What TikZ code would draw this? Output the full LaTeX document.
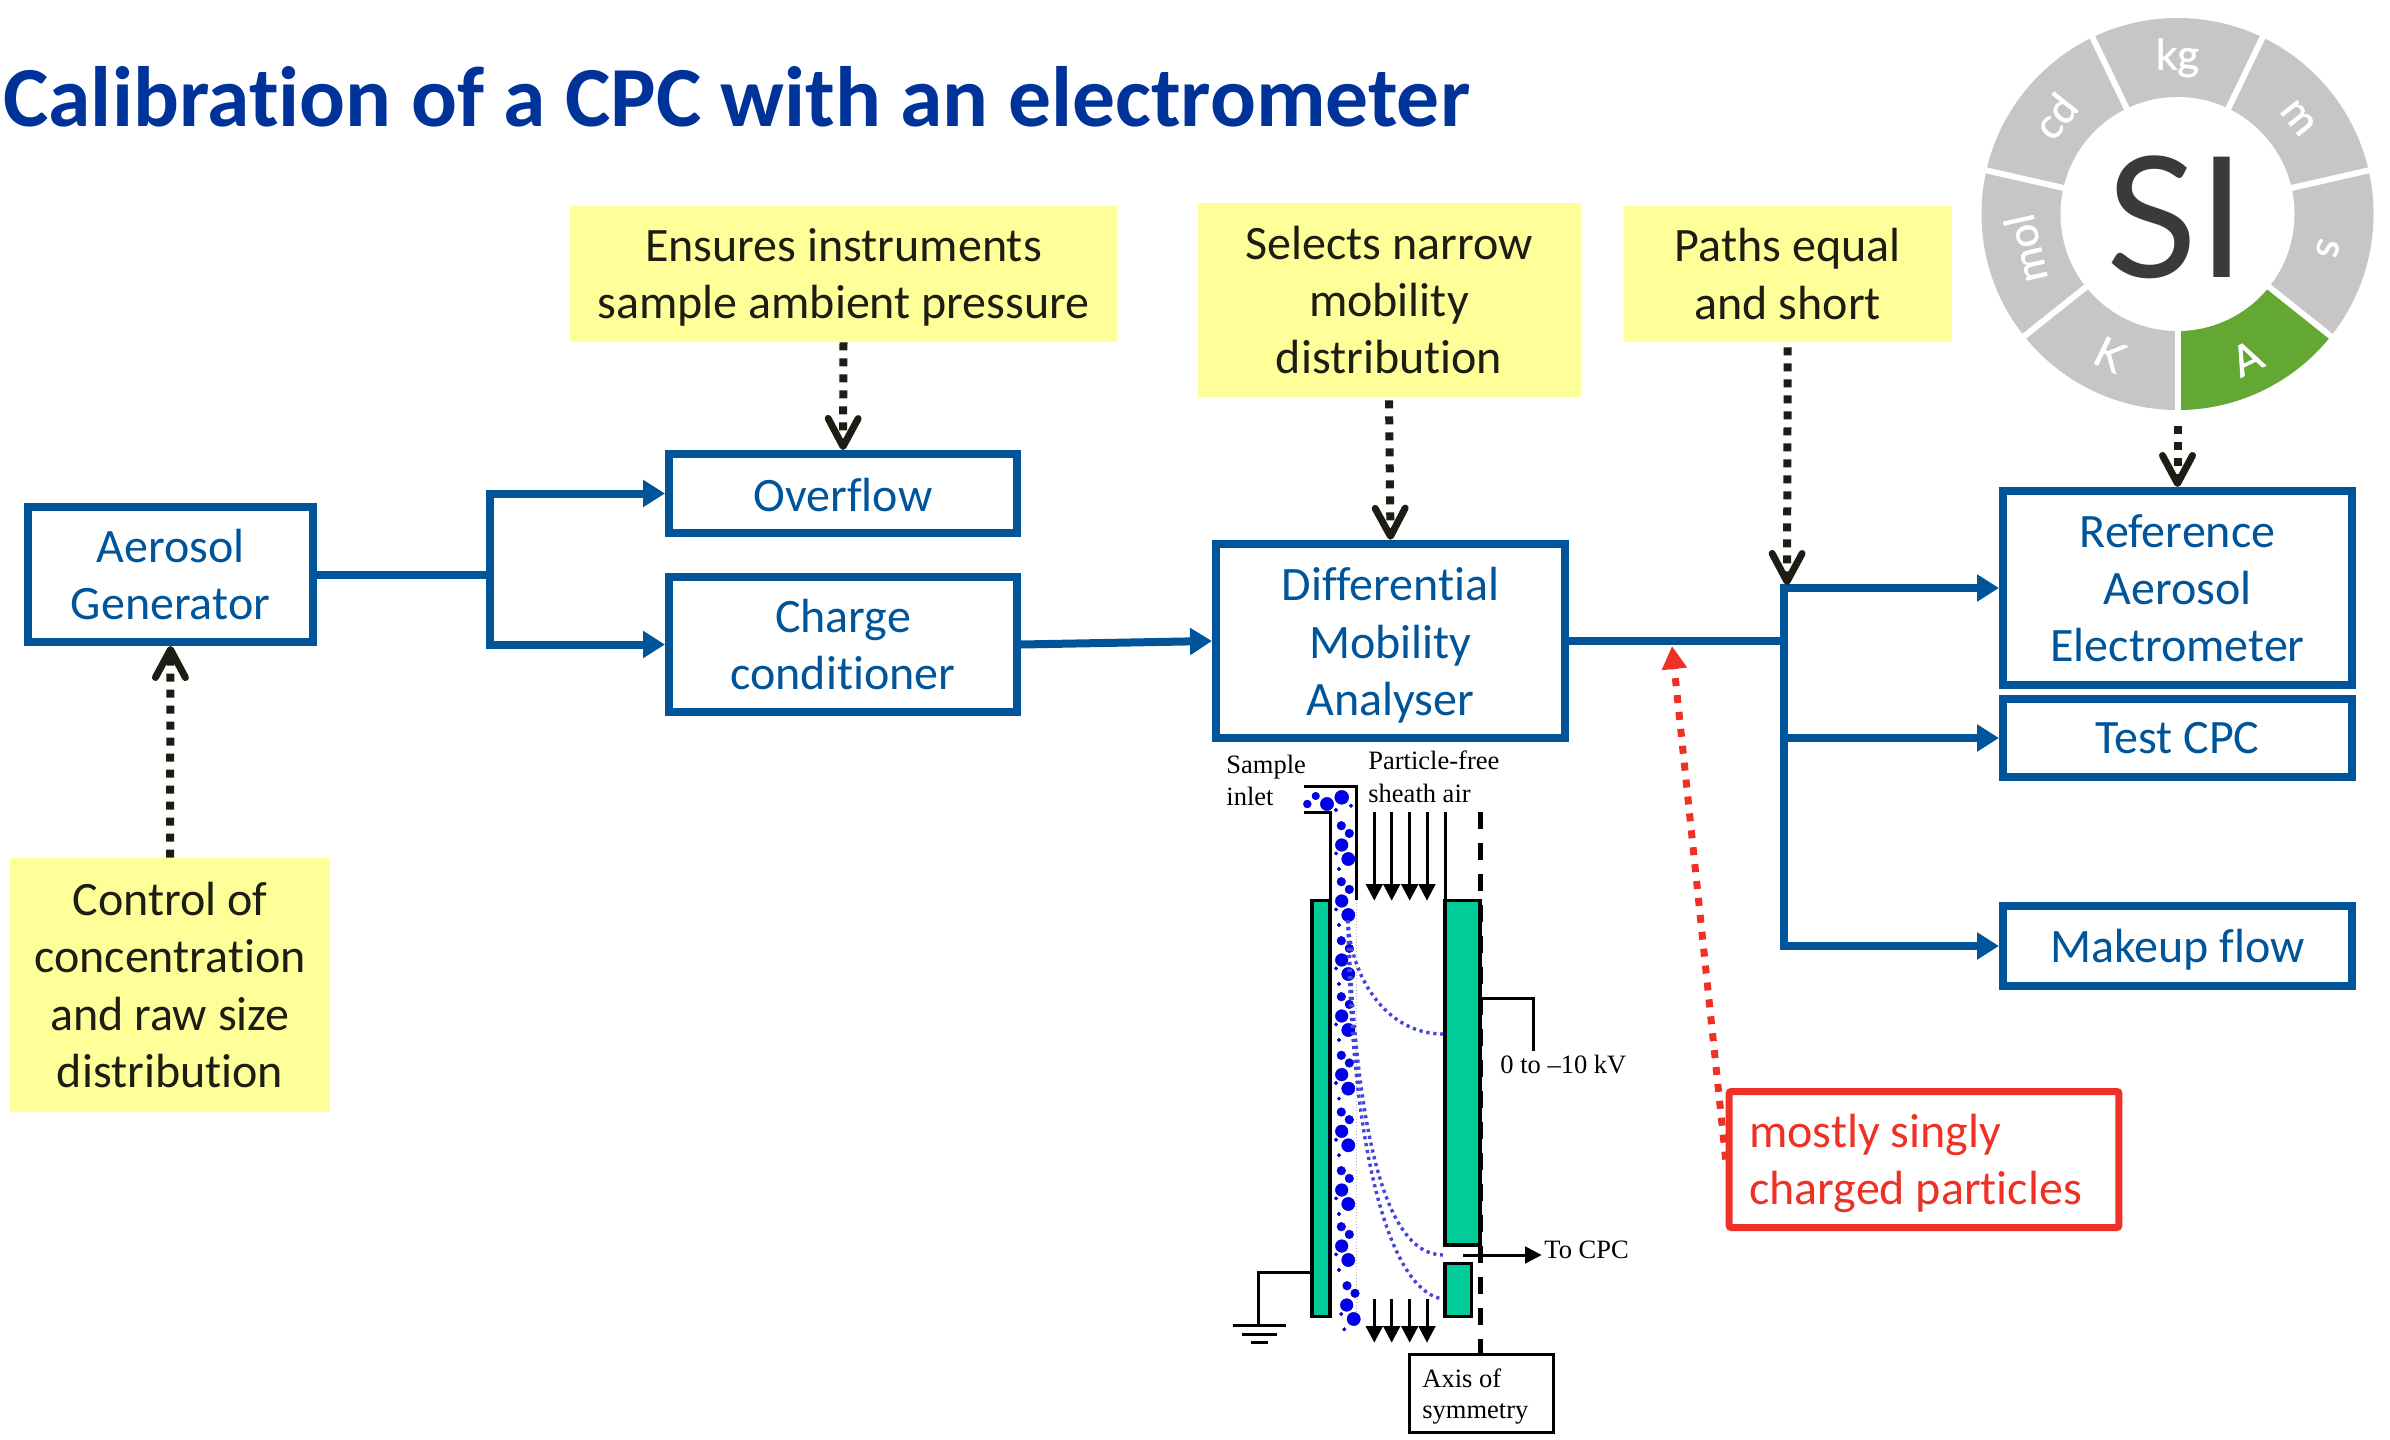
\documentclass[tikz,border=0pt]{standalone}
\usepackage{fontspec}
\setmainfont[Ligatures={NoCommon}]{Carlito}
\newfontfamily\schemfont{Liberation Serif}
\newfontfamily\wheelfont{Lato}
\newfontfamily\unitfont[FakeBold=1.2]{Lato}
\usetikzlibrary{arrows.meta}
\definecolor{boxblue}{HTML}{00559A}
\definecolor{titleblue}{HTML}{003399}
\definecolor{noteyellow}{HTML}{FFFF99}
\definecolor{inkblack}{HTML}{1D1D14}
\definecolor{alarmred}{HTML}{EE3124}
\definecolor{plategreen}{HTML}{00CC99}
\definecolor{dotblue}{HTML}{0000EE}
\definecolor{pathblue}{HTML}{4444DD}
\definecolor{wheelgrey}{HTML}{C6C6C6}
\definecolor{wheelgreen}{HTML}{63A832}
\definecolor{sigrey}{HTML}{3A3A38}
\tikzset{
  bodytext/.style={font=\fontsize{24}{28.6}\selectfont,align=center,inner sep=0pt},
  flowbox/.style={bodytext,draw=boxblue,line width=4pt,text=boxblue,fill=white,rectangle,minimum width=#1},
  notebox/.style={bodytext,fill=noteyellow,text=inkblack,rectangle,minimum width=#1},
  flowline/.style={draw=boxblue,line width=4pt},
  flowarrow/.style={flowline,-{Triangle[length=11pt,width=13pt]}},
  notearrow/.style={draw=inkblack,line width=4pt,dash pattern=on 4pt off 4pt,
     -{Straight Barb[length=14pt,width=15pt,line width=3.5pt,round,sep=0pt]}},
  redarrow/.style={draw=alarmred,line width=3.5pt,dash pattern=on 4pt off 4.5pt,
     -{Triangle[length=11.5pt,width=12pt]}},
  schemline/.style={draw=black,line width=1.5pt},
  plate/.style={draw=black,line width=1.6pt,fill=plategreen},
  flowdown/.style={schemline,-{Triangle[length=8.3pt,width=8.3pt]}},
  traj/.style={draw=pathblue,line width=1.7pt,dash pattern=on 1.6pt off 1.9pt},
  dot/.style={fill=dotblue,draw=dotblue!70!black,line width=.2pt},
  schemlabel/.style={font=\schemfont\fontsize{13.25}{16}\selectfont,inner sep=0pt,anchor=west},
  wheeltext/.style={font=\unitfont\fontsize{21}{21}\selectfont,text=white,inner sep=0pt}
}
\begin{document}
\begin{tikzpicture}[x=0.5pt,y=-0.5pt,line join=miter]
\useasboundingbox (0,0) rectangle (2390,1440);

% title
\node[anchor=base west,inner sep=0pt,text=titleblue,font=\fontsize{42.8}{50}\selectfont\bfseries] (title) at (3,126) {Calibration of a CPC with an electrometer};

% SI wheel
\node[circle,fill=wheelgrey,minimum size=196pt,inner sep=0pt] (si) at (2177.5,214) {};
\begin{scope}[shift={(2177.5,214)},x=0.5pt,y=0.5pt]
  \fill[wheelgreen] (0,0) -- (270:196) arc[start angle=270,end angle=321.43,radius=196] -- cycle;
  \foreach \a in {270,321.43,12.86,64.29,115.71,167.14,218.57}
    \draw[white,line width=3pt] (0,0) -- (\a:198);
  \fill[white] (0,0) circle[radius=117];
  \node[wheeltext,rotate=0] (ukg) at (90:156) {kg};
  \node[wheeltext,rotate=-51.43] (um) at (38.57:154) {m};
  \node[wheeltext,rotate=-102.86] (us) at (347.14:154) {s};
  \node[wheeltext,rotate=25.7] (ua) at (295.7:160) {A};
  \node[wheeltext,rotate=-25.7] (uk) at (244.3:156) {K};
  \node[wheeltext,rotate=102.86] (umol) at (192.86:156) {mol};
  \node[wheeltext,rotate=51.43] (ucd) at (141.43:157) {cd};
\end{scope}
\node[text=sigrey,inner sep=0pt,font=\wheelfont\fontsize{84}{84}\selectfont] (sitext) at (2176,217) {SI};

% flow boxes
\node[flowbox=142.5pt,minimum height=67.5pt] (gen) at (170.5,574.5) {Aerosol\\Generator};
\node[flowbox=174pt,minimum height=39.5pt] (over) at (843,493.5) {\rule{0pt}{18pt}Overflow};
\node[flowbox=174pt,minimum height=67.5pt] (charge) at (843,644.5) {Charge\\conditioner};
\node[flowbox=174.5pt,minimum height=97.25pt] (dma) at (1390.5,641) {\rule{0pt}{21pt}Differential\\Mobility\\Analyser};
\node[flowbox=174.5pt,minimum height=97pt] (ref) at (2177.5,588) {Reference\\Aerosol\\Electrometer};
\node[flowbox=174.5pt,minimum height=39pt] (test) at (2177.5,738) {Test CPC};
\node[flowbox=174.5pt,minimum height=39.75pt] (make) at (2177.5,946) {\rule{0pt}{20.5pt}Makeup flow};

% notes
\node[notebox=160pt,minimum height=127pt] (n0) at (170,985) {Control of\\concentration\\and raw size\\distribution};
\node[notebox=273.5pt,minimum height=68pt] (n1) at (843.5,274) {\rule{0pt}{19.5pt}Ensures instruments\\sample ambient pressure};
\node[notebox=191.5pt,minimum height=97pt] (n2) at (1389,300) {Selects narrow\\mobility\\distribution};
\node[notebox=163.75pt,minimum height=68pt] (n3) at (1787.75,274) {Paths equal\\and short};

% red note
\node[bodytext,draw=alarmred,line width=3.5pt,rounded corners=1pt,text=alarmred,align=left,
      text width=174.8pt,inner xsep=10pt,minimum height=68pt] (red) at (1924,1159.5) {\spaceskip=0pt\rule{0pt}{21pt}mostly singly\\charged particles};

% junctions
\coordinate (j1) at (490,574.5);
\coordinate (j2) at (1784,641);
\coordinate (j3) at (1787,585);
\coordinate (redtip) at (1672,646);

% flow connectors
\draw[flowline] (gen.east) -- (j1);
\draw[flowarrow] (j1) |- (over.west);
\draw[flowarrow] (j1) |- (charge.west);
\draw[flowarrow] (charge.east) -- (dma.west);
\draw[flowline] (dma.east) -- (j2);
\draw[flowarrow] (j2) |- (ref.west);
\draw[flowarrow] (j2) |- (test.west);
\draw[flowarrow] (j2) |- (make.west);

% note connectors
\draw[notearrow] (n0.north) -- (gen.south);
\draw[notearrow] (n1.south) -- (over.north);
\draw[notearrow,shorten <=1.5pt] (n2.south) -- (dma.north);
\draw[notearrow,shorten <=2.5pt] (n3.south) -- (j3);
\draw[notearrow,shorten <=8pt] (si.south) -- (ref.north);
\draw[redarrow] (red.west) -- (redtip);

% --- DMA schematic ---
\draw[draw=gray!60,line width=.5pt,densely dotted] (1356.7,900) -- (1356.7,1313);
% particles
\foreach \b in {825.7,881.7,940.7,996.7,1055.3,1112,1170.7,1226.7}{
  \fill[dot] (1341.3,\b) circle[radius=2.17pt];
  \fill[dot] (1349.3,\b+7.7) circle[radius=2.17pt];
  \fill[dot] (1341.7,\b+19.3) circle[radius=3.17pt];
  \fill[dot] (1348.3,\b+33.3) circle[radius=3.33pt];
  \fill[dot] (1336,\b+27.7) circle[radius=.9pt];
  \fill[dot] (1339,\b+43.3) circle[radius=.9pt];
}
\foreach \px/\py/\pr in {1347/1285.7/2.17,1355/1293.3/2.17,1346.7/1305/3.17,1353.7/1319/3.33,1341.3/1314/.9,1344.3/1329.3/.9,
   1307.3/804/2,1315.7/796/1.9,1327/804/3.33,1341.7/797.3/3.5,1351/805.7/.9,1336/810/.9}
  \fill[dot] (\px,\py) circle[radius=\pr pt];
% plates
\draw[plate] (1312,900.7) rectangle (1330,1316.7);
\draw[plate] (1445,900.7) rectangle (1480,1245);
\draw[plate] (1445,1263.3) rectangle (1471.7,1316.7);
% walls
\draw[schemline] (1304,786) -- (1356,786) -- (1356,900);
\draw[schemline] (1304,812) -- (1330,812) -- (1330,900);
\draw[schemline] (1445,812) -- (1445,900);
% flow arrows
\foreach \fx in {1374.3,1391.7,1409.7,1427}{
  \draw[flowdown] (\fx,812) -- (\fx,900.7);
  \draw[flowdown] (\fx,1299.3) -- (\fx,1342.7);
}
% trajectories
\draw[traj] (1348,920) .. controls (1350,975) and (1385,1034) .. (1443,1034);
\draw[traj] (1348,920) .. controls (1355,1110) and (1380,1255) .. (1443,1255);
\draw[traj] (1348,920) .. controls (1350,1130) and (1385,1290) .. (1443,1299);
% axis
\node[draw=black,line width=1.5pt,fill=white,minimum width=72pt,minimum height=39pt,inner sep=0pt] (axisbox) at (1481,1393) {};
\coordinate (axistop) at (1480.7,812);
\draw[draw=black,line width=2.3pt,dash pattern=on 8.5pt off 7pt] (axistop) -- (axistop |- axisbox.north);
% wires
\coordinate (kvend) at (1533,1050.6);
\draw[schemline] (1480,998.6) -| (kvend);
\draw[schemline,-{Triangle[length=8.3pt,width=8.3pt]}] (1463,1255) -- (1541.7,1255);
\draw[schemline] (1312,1272) -- (1258.7,1272) -- (1258.7,1325.6);
\draw[schemline] (1233,1325.6) -- (1285.7,1325.6);
\draw[schemline] (1241.7,1334.6) -- (1276.7,1334.6);
\draw[schemline] (1250.7,1342.8) -- (1268,1342.8);
% labels
\node[schemlabel] (sample) at (1226,767) {Sample};
\node[schemlabel] (inlet) at (1226,796) {inlet};
\node[schemlabel] (pfree) at (1368,760) {Particle-free};
\node[schemlabel] (sheath) at (1368,793) {sheath air};
\node[schemlabel] (kv) at (1500,1064) {0 to –10 kV};
\node[schemlabel] (tocpc) at (1544,1250) {To CPC};
\node[schemlabel] (axis1) at (1422,1378) {Axis of};
\node[schemlabel] (axis2) at (1422,1414) {symmetry};
\end{tikzpicture}
\end{document}
